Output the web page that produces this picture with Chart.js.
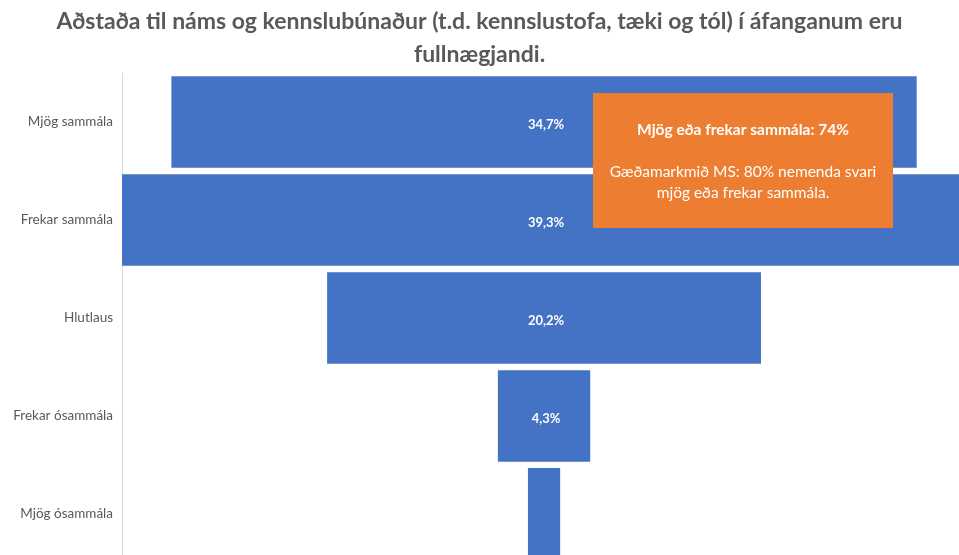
<!DOCTYPE html>
<html>
<head>
<meta charset="utf-8">
<script src="https://cdn.jsdelivr.net/npm/chart.js@4/dist/chart.umd.min.js"></script>
<style>
  html, body { margin: 0; padding: 0; background: #fff; overflow: hidden; }
  canvas { display: block; }
</style>
</head>
<body>
<canvas id="funnelChart" width="959" height="580"></canvas>
<script>
var titleLines = ['Aðstaða til náms og kennslubúnaður (t.d. kennslustofa, tæki og tól) í áfanganum eru', 'fullnægjandi.'];
var categories = ['Mjög sammála', 'Frekar sammála', 'Hlutlaus', 'Frekar ósammála', 'Mjög ósammála'];
var percentValues = [34.7, 39.3, 20.2, 4.3, 1.5];
var noteLines = ['Mjög eða frekar sammála: 74%', 'Gæðamarkmið MS: 80% nemenda svari', 'mjög eða frekar sammála.'];

var blue = '#4472C4';
var orange = '#ED7D31';
var grey = '#595959';

// funnel: each bar centered on zero; the widest bar runs past the right edge of the picture
var maxVal = Math.max.apply(null, percentValues);
var floatingData = percentValues.map(function (v) { return [-v / 2, v / 2]; });

const fmt = (v) => v.toFixed(1).replace('.', ',') + '%';

const labelPlugin = {
    id: 'barLabels',
    afterDatasetsDraw(chart) {
        var ctx = chart.ctx;
        var meta = chart.getDatasetMeta(0);
        ctx.save();
        ctx.font = 'bold 13px Lato';
        ctx.fillStyle = '#fff';
        ctx.textAlign = 'center';
        ctx.textBaseline = 'middle';
        meta.data.forEach(function (bar, i) {
            var txt = fmt(percentValues[i]);
            var w = Math.abs(bar.x - bar.base);
            if (ctx.measureText(txt).width + 8 > w) return;
            ctx.fillText(txt, (bar.x + bar.base) / 2 + 2, bar.y + 3);
        });
        ctx.restore();
    }
};

const notePlugin = {
    id: 'noteBox',
    afterDraw(chart) {
        var ctx = chart.ctx;
        var a = chart.chartArea;
        var left = a.left + 471, top = a.top + 20, w = 300, h = 135;
        ctx.save();
        ctx.fillStyle = orange;
        ctx.fillRect(left, top, w, h);
        ctx.fillStyle = '#fff';
        ctx.textAlign = 'center';
        ctx.textBaseline = 'middle';
        ctx.font = 'bold 15.5px Lato';
        ctx.fillText(noteLines[0], left + w / 2, top + 37);
        ctx.font = '15.5px Lato';
        ctx.fillText(noteLines[1], left + w / 2, top + 79);
        ctx.fillText(noteLines[2], left + w / 2, top + 100);
        ctx.restore();
    }
};

var ctx = document.getElementById('funnelChart');

new Chart(ctx, {
    type: 'bar',
    data: {
        labels: categories,
        datasets: [{
            data: floatingData,
            backgroundColor: blue,
            borderWidth: 0,
            barPercentage: 0.935,
            categoryPercentage: 1
        }]
    },
    options: {
        indexAxis: 'y',
        responsive: false,
        animation: false,
        layout: { padding: { left: 0, right: 0, top: 0, bottom: 0 } },
        scales: {
            x: {
                display: false,
                min: -maxVal / 2,
                max: maxVal / 2 - 0.33
            },
            y: {
                afterFit: function (scale) { scale.width = 122; },
                grid: { drawOnChartArea: false, drawTicks: false },
                border: { display: true, color: '#d9d9d9', width: 1 },
                ticks: {
                    padding: 9,
                    color: grey,
                    font: { family: 'Lato', size: 13.5 }
                }
            }
        },
        plugins: {
            legend: { display: false },
            tooltip: { enabled: false },
            title: {
                display: true,
                text: titleLines,
                color: grey,
                font: { family: 'Lato', size: 23, weight: 'bold', lineHeight: 1.435 },
                padding: { top: 5, bottom: 2 }
            }
        }
    },
    plugins: [labelPlugin, notePlugin]
});
</script>
</body>
</html>
